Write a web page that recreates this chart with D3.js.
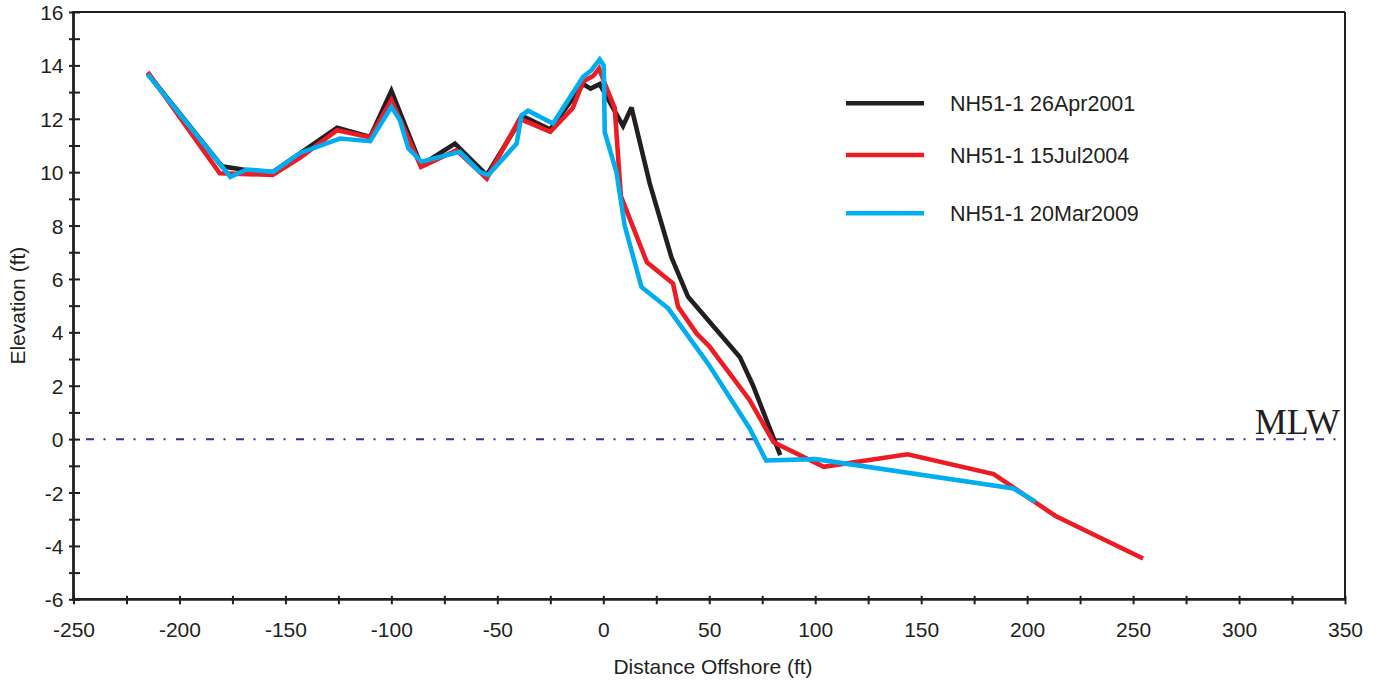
<!DOCTYPE html>
<html>
<head>
<meta charset="utf-8">
<script src="https://cdn.jsdelivr.net/npm/d3@7"></script>
<style>
  html, body { margin: 0; padding: 0; background: #fff; }
  svg { display: block; }
  text { font-family: "Liberation Sans", Arial, sans-serif; fill: #231f20; }
</style>
</head>
<body>
<svg id="chart" width="1375" height="683"></svg>
<script>
// ---- Data ----
const seriesNames = ["NH51-1 26Apr2001", "NH51-1 15Jul2004", "NH51-1 20Mar2009"];

const dist2001 = [-215, -180, -168, -156, -125.6, -110, -100, -86, -70, -55, -38, -25, -9.5, -6, -1.7, 9.3, 13.3, 21.9, 32.2, 40, 64.4, 70.7, 83.5];
const elev2001 = [13.7, 10.22, 10.07, 10.0, 11.66, 11.32, 13.05, 10.26, 11.07, 9.89, 12.1, 11.6, 13.3, 13.13, 13.3, 11.73, 12.42, 9.58, 6.8, 5.33, 3.08, 2.0, -0.6];

const dist2004 = [-215, -181, -156, -143, -125.6, -110, -100, -86, -69.2, -55, -39.4, -25, -14.4, -9.5, -4.8, -2, 0.7, 5.4, 8.3, 20.6, 32.9, 35.3, 44, 50.2, 69.1, 80.4, 104, 143.6, 184.2, 213.4, 254.7];
const elev2004 = [13.75, 9.96, 9.9, 10.55, 11.57, 11.3, 12.7, 10.2, 10.82, 9.76, 12.0, 11.51, 12.4, 13.4, 13.6, 13.88, 13.32, 12.4, 9.1, 6.62, 5.83, 4.96, 3.96, 3.46, 1.46, -0.12, -1.04, -0.57, -1.31, -2.88, -4.47];

const dist2009 = [-215, -176, -168.3, -155.8, -143, -124.3, -110, -100, -96, -92, -85.8, -67.7, -58.3, -54.3, -40.9, -38.6, -35.5, -23.7, -9.5, -5.6, -1.7, 0.2, 0.7, 6.2, 10.1, 18, 30.6, 49.4, 69.1, 76.8, 100.2, 193.6, 204];
const elev2009 = [13.67, 9.82, 10.1, 10.01, 10.72, 11.26, 11.16, 12.45, 11.95, 10.89, 10.39, 10.76, 10.01, 9.89, 11.07, 12.13, 12.3, 11.82, 13.57, 13.82, 14.22, 14.0, 11.5, 10.0, 8.0, 5.7, 4.9, 2.83, 0.4, -0.8, -0.75, -1.85, -2.35];

const xTickLabels = [-250, -200, -150, -100, -50, 0, 50, 100, 150, 200, 250, 300, 350];
const yTickLabels = [-6, -4, -2, 0, 2, 4, 6, 8, 10, 12, 14, 16];
const mlwLevel = 0;
const mlwLabel = "MLW";
const xTitle = "Distance Offshore (ft)";
const yTitle = "Elevation (ft)";

const colors = ["#231f20", "#ed1c24", "#00aeef"];

// ---- Layout ----
(function () {
const svg = d3.select("#chart");
const pL = 73.5, pR = 1345, pT = 12, pB = 599.3;

const x = d3.scaleLinear().domain([-250, 350]).range([pL, pR]);
const y = d3.scaleLinear().domain([-6, 16]).range([pB, pT]);

const series = [
  { name: seriesNames[0], color: colors[0], pts: dist2001.map((d, i) => [d, elev2001[i]]) },
  { name: seriesNames[1], color: colors[1], pts: dist2004.map((d, i) => [d, elev2004[i]]) },
  { name: seriesNames[2], color: colors[2], pts: dist2009.map((d, i) => [d, elev2009[i]]) }
];

// Frame (top and right)
svg.append("line").attr("x1", pL).attr("x2", pR).attr("y1", pT).attr("y2", pT)
  .attr("stroke", "#231f20").attr("stroke-width", 2);
svg.append("line").attr("x1", pR).attr("x2", pR).attr("y1", pT).attr("y2", pB)
  .attr("stroke", "#231f20").attr("stroke-width", 2);

// MLW line
svg.append("line")
  .attr("x1", pL).attr("x2", pR)
  .attr("y1", y(mlwLevel)).attr("y2", y(mlwLevel))
  .attr("stroke", "#2e3192").attr("stroke-width", 2)
  .attr("stroke-dasharray", "8,9.5,2,10.5")
  .attr("stroke-dashoffset", 17.5);

svg.append("text")
  .attr("x", 1340).attr("y", y(mlwLevel) - 5)
  .attr("text-anchor", "end")
  .style("font-family", "'Liberation Serif', 'Times New Roman', serif")
  .style("font-size", "36px")
  .text(mlwLabel);

// Lines
const line = d3.line().x(d => x(d[0])).y(d => y(d[1]));
series.forEach(s => {
  svg.append("path")
    .datum(s.pts)
    .attr("d", line)
    .attr("fill", "none")
    .attr("stroke", s.color)
    .attr("stroke-width", 4.6)
    .attr("stroke-linejoin", "miter")
    .attr("stroke-miterlimit", 3);
});

// X axis
const xAxis = d3.axisBottom(x)
  .tickValues(d3.range(-250, 351, 25))
  .tickSize(0)
  .tickFormat(d => xTickLabels.includes(d) ? d : "");
const gx = svg.append("g").attr("transform", `translate(0,${pB})`).call(xAxis);
gx.select(".domain").remove();
gx.selectAll(".tick line").remove();
gx.selectAll(".tick text")
  .attr("y", 38).attr("dy", null)
  .style("font-size", "21px")
  .style("font-family", "'Liberation Sans', Arial, sans-serif")
  .attr("fill", "#231f20");
gx.selectAll(".tick").append("line")
  .attr("y1", -3.5).attr("y2", 5)
  .attr("stroke", "#231f20").attr("stroke-width", 2);
svg.append("line").attr("x1", pL - 1.5).attr("x2", pR + 1).attr("y1", pB).attr("y2", pB)
  .attr("stroke", "#231f20").attr("stroke-width", 2.8);

// Y axis
const yAxis = d3.axisLeft(y)
  .tickValues(d3.range(-6, 17, 1))
  .tickSize(0)
  .tickFormat(d => yTickLabels.includes(d) ? d : "");
const gy = svg.append("g").attr("transform", `translate(${pL},0)`).call(yAxis);
gy.select(".domain").remove();
gy.selectAll(".tick line").remove();
gy.selectAll(".tick text")
  .attr("x", -10).attr("dy", "0.36em")
  .style("font-size", "21px")
  .style("font-family", "'Liberation Sans', Arial, sans-serif")
  .attr("fill", "#231f20");
gy.selectAll(".tick").append("line")
  .attr("x1", -4.5).attr("x2", 6.5)
  .attr("stroke", "#231f20").attr("stroke-width", 2);
svg.append("line").attr("x1", pL).attr("x2", pL).attr("y1", pT - 1).attr("y2", pB + 1.4)
  .attr("stroke", "#231f20").attr("stroke-width", 2.8);

// Axis titles
svg.append("text")
  .attr("x", 713).attr("y", 674)
  .attr("text-anchor", "middle")
  .style("font-size", "21px")
  .text(xTitle);
svg.append("text")
  .attr("transform", `translate(25,${(pT + pB) / 2}) rotate(-90)`)
  .attr("text-anchor", "middle")
  .style("font-size", "21px")
  .text(yTitle);

// Legend
const legendY = [103.3, 155, 213.3];
series.forEach((s, i) => {
  svg.append("line")
    .attr("x1", 846).attr("x2", 924)
    .attr("y1", legendY[i]).attr("y2", legendY[i])
    .attr("stroke", s.color).attr("stroke-width", 4.6);
  svg.append("text")
    .attr("x", 950).attr("y", legendY[i]).attr("dy", "0.36em")
    .style("font-size", "21.5px")
    .text(s.name);
});
})();
</script>
</body>
</html>
